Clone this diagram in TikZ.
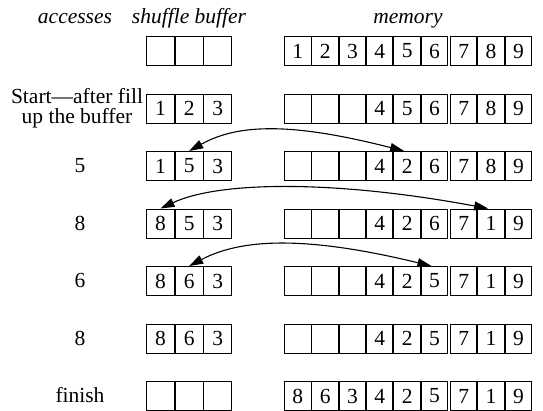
\documentclass[tikz,border=0pt]{standalone}
\usepackage{fontspec}
\setmainfont{Liberation Serif}
\usetikzlibrary{arrows.meta}
\newcommand{\diagfont}{\fontsize{21.5}{20.5}\selectfont}
\newcommand{\bufrow}[3]{%
  \foreach \v [count=\k from 0] in {#3} {%
    \pgfmathsetmacro\xx{146+\k*28.67}%
    \node[bcell] (b#1-\k) at (\xx,#2) {\v};
  }}
\newcommand{\memrow}[3]{%
  \foreach \v [count=\k from 0] in {#3} {%
    \pgfmathsetmacro\xx{284+\k*27.33+(\k>5)*2}%
    \node[mcell] (m#1-\k) at (\xx,#2) {\v};
  }}
\begin{document}
\begin{tikzpicture}[x=1pt,y=-1pt,
  cellbase/.style={draw, line width=1.1pt, minimum height=29pt, inner sep=0pt,
    anchor=north west, font=\diagfont},
  bcell/.style={cellbase, minimum width=27.9pt},
  mcell/.style={cellbase, minimum width=26.5pt},
  head/.style={font=\diagfont\itshape, anchor=base, inner sep=0pt},
  lab/.style={font=\diagfont, anchor=base, inner sep=0pt},
  swap/.style={{Triangle[length=14pt,width=9pt]}-{Triangle[length=14pt,width=9pt]}, line width=1.1pt}]
\useasboundingbox (0,0) rectangle (543,410);
% headers
\node[head] (hacc) at (75,23) {accesses};
\node[head] (hbuf) at (189,23) {shuffle buffer};
\node[head] (hmem) at (408,23) {memory};
% rows
\bufrow{0}{36}{{},{},{}}
\memrow{0}{36}{1,2,3,4,5,6,7,8,9}
\bufrow{1}{93.5}{1,2,3}
\memrow{1}{93.5}{{},{},{},4,5,6,7,8,9}
\bufrow{2}{151}{1,5,3}
\memrow{2}{151}{{},{},{},4,2,6,7,8,9}
\bufrow{3}{208.5}{8,5,3}
\memrow{3}{208.5}{{},{},{},4,2,6,7,1,9}
\bufrow{4}{266}{8,6,3}
\memrow{4}{266}{{},{},{},4,2,5,7,1,9}
\bufrow{5}{323.5}{8,6,3}
\memrow{5}{323.5}{{},{},{},4,2,5,7,1,9}
\bufrow{6}{381}{{},{},{}}
\memrow{6}{381}{8,6,3,4,2,5,7,1,9}
% row labels
\node[font=\diagfont, align=center, inner sep=0pt] (l1) at (77,108) {Start—after fill\\up the buffer};
\node[lab] (l2) at (80,172.8) {5};
\node[lab] (l3) at (80,230.3) {8};
\node[lab] (l4) at (80,287.8) {6};
\node[lab] (l5) at (80,345.3) {8};
\node[lab] (l6) at (80,402.8) {finish};
% swap arrows
\draw[swap] (b2-1.north) .. controls +(50,-28) and +(-110,-28) .. ([xshift=-3pt]m2-4.north);
\draw[swap] (b3-0.north) .. controls +(60,-28) and +(-150,-28) .. ([xshift=-3pt]m3-7.north);
\draw[swap] (b4-1.north) .. controls +(55,-29) and +(-120,-29) .. ([xshift=-3pt]m4-5.north);
\end{tikzpicture}
\end{document}
